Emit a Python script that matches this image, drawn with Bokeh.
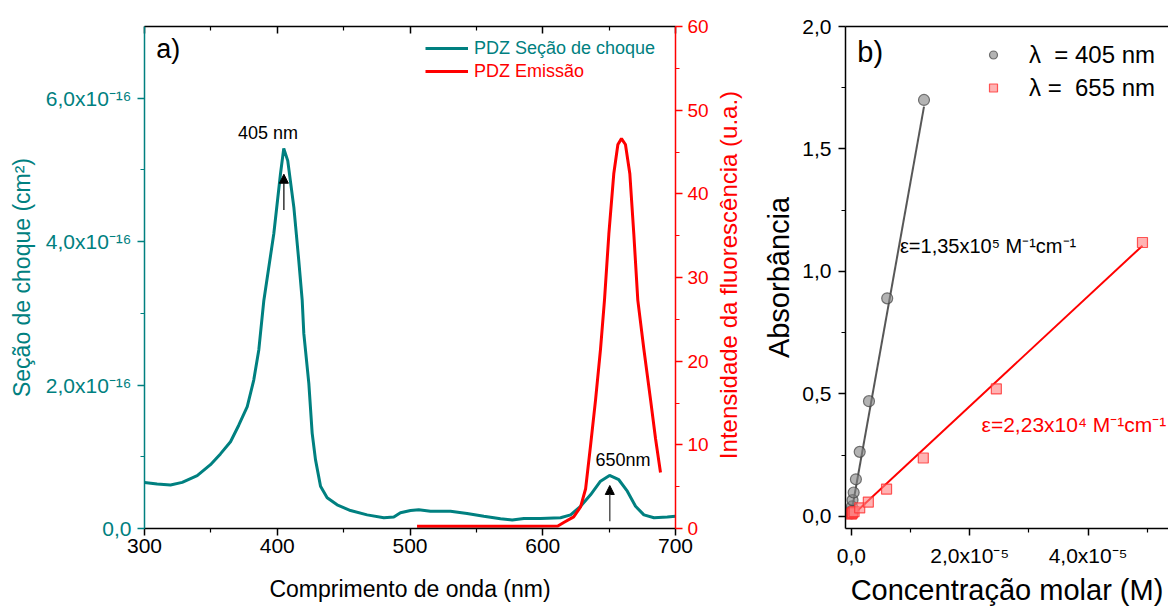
import math
from bokeh.plotting import figure
from bokeh.models import (Range1d, LinearAxis, FixedTicker, Legend, LegendItem,
                          Label, Arrow, NormalHead)
from bokeh.layouts import row
from bokeh.embed import file_html
from bokeh.resources import INLINE

FONT = "Liberation Sans"
TEAL = "#008080"
RED = "#FF0000"

# ---------------- Panel a data ----------------
# absorption cross-section (units of 1e-16 cm^2)
wl_abs = [300, 309.5, 319.6, 328.4, 339.7, 349.7, 357.2, 364.8, 371, 377.4, 382.3, 386.1,
          389.9, 397.4, 402.4, 404.9, 407.9, 412.5, 416.2, 418.8, 420, 423.8, 426.3, 428.8,
          432.6, 437.6, 445.1, 455.2, 467.7, 480.3, 487.8, 492.8, 500.4, 506.6, 515.4,
          530.5, 543, 555.6, 568.2, 577, 585.8, 598.3, 613.4, 621, 628.5, 636, 643.5,
          650.3, 657.3, 663.7, 669.9, 676.2, 683.8, 693.8, 700]
sigma_abs = [0.643, 0.62, 0.607, 0.643, 0.736, 0.89, 1.04, 1.21, 1.44, 1.70, 2.07, 2.49,
             3.18, 4.11, 4.94, 5.30, 5.13, 4.48, 3.74, 3.18, 2.72, 2.02, 1.33, 0.96,
             0.59, 0.43, 0.33, 0.25, 0.19, 0.15, 0.16, 0.22, 0.25, 0.26, 0.24,
             0.24, 0.21, 0.17, 0.135, 0.12, 0.14, 0.14, 0.15, 0.19, 0.31, 0.47, 0.66,
             0.74, 0.68, 0.52, 0.31, 0.19, 0.15, 0.16, 0.17]
# emission intensity (a.u.)
wl_em = [505.3, 540, 580, 611.4, 615.8, 623.3, 628.5, 632.3, 636, 639.8, 643.5, 646.5,
         649.8, 653.5, 656.6, 659.3, 662.3, 665.6, 668.6, 671.6, 676.2, 681.2, 685, 688.7]
em_int = [0.27, 0.27, 0.28, 0.3, 0.71, 1.39, 2.58, 4.75, 9.9, 15.4, 21.4, 27.3,
          35.2, 42.4, 45.9, 46.6, 45.9, 42.4, 35.2, 27.3, 21.4, 15.4, 10.7, 6.7]

xa_ticks = [300, 400, 500, 600, 700]
xa_minor = [350, 450, 550, 650]
ya_ticks = [0, 2, 4, 6]
ya_minor = [1, 3, 5]
ya_labels = ["0,0", "2,0x10\u207b\u00b9\u2076", "4,0x10\u207b\u00b9\u2076", "6,0x10\u207b\u00b9\u2076"]
yr_ticks = [0, 10, 20, 30, 40, 50, 60]
yr_minor = [5, 15, 25, 35, 45, 55]

# ---------------- Panel b data ----------------
# concentration in units of 1e-5 M
conc_405 = [0.0024, 0.0048, 0.0095, 0.019, 0.038, 0.076, 0.14, 0.297, 0.605, 1.227]
abs_405 = [0.012, 0.022, 0.04, 0.066, 0.097, 0.151, 0.263, 0.47, 0.89, 1.70]
conc_655 = [0.0, 0.01, 0.02, 0.045, 0.14, 0.286, 0.594, 1.215, 2.45, 4.92]
abs_655 = [0.009, 0.012, 0.015, 0.019, 0.034, 0.058, 0.111, 0.238, 0.52, 1.118]
fit_405_x = [0.0, 1.227]
fit_405_y = [0.015, 1.673]
fit_655_x = [0.0, 4.92]
fit_655_y = [0.0, 1.105]

xb_ticks = [0, 2, 4]
xb_minor = [1, 3, 5]
xb_labels = ["0,0", "2,0x10\u207b\u2075", "4,0x10\u207b\u2075"]
yb_ticks = [0, 0.5, 1.0, 1.5, 2.0]
yb_minor = [0.25, 0.75, 1.25, 1.75]
yb_labels = ["0,0", "0,5", "1,0", "1,5", "2,0"]


def style_axis(ax, color, size, label_size=None):
    ax.axis_line_color = color
    ax.axis_line_width = 1.5
    ax.major_tick_line_color = color
    ax.minor_tick_line_color = color
    ax.major_tick_line_width = 1.5
    ax.minor_tick_line_width = 1.2
    ax.major_tick_out = 7
    ax.major_tick_in = 0
    ax.minor_tick_out = 4
    ax.minor_tick_in = 0
    ax.major_label_text_color = color
    ax.major_label_text_font = FONT
    ax.major_label_text_font_size = size
    ax.axis_label_text_color = color
    ax.axis_label_text_font = FONT
    ax.axis_label_text_font_style = "normal"
    if label_size:
        ax.axis_label_text_font_size = label_size


# ================= Panel a =================
pa = figure(width=712, height=608, x_range=Range1d(300, 700), y_range=Range1d(0, 7),
            x_axis_type=None, y_axis_type=None, output_backend="svg",
            toolbar_location=None, min_border_left=144, min_border_right=37,
            min_border_top=25, min_border_bottom=78)
pa.outline_line_color = None
pa.extra_y_ranges = {"em": Range1d(0, 60)}

xa = LinearAxis(ticker=FixedTicker(ticks=xa_ticks, minor_ticks=xa_minor),
                axis_label="Comprimento de onda (nm)")
style_axis(xa, "black", "21px", "23px")
xa.major_label_standoff = 3
xa.axis_label_standoff = 20
pa.add_layout(xa, "below")

xa_top = LinearAxis(ticker=FixedTicker(ticks=xa_ticks, minor_ticks=xa_minor))
style_axis(xa_top, "black", "10px")
xa_top.major_label_text_color = None
xa_top.major_tick_out = 0
xa_top.major_tick_in = 7
xa_top.minor_tick_out = 0
xa_top.minor_tick_in = 4
xa_top.major_label_standoff = 0
pa.add_layout(xa_top, "above")

ya = LinearAxis(ticker=FixedTicker(ticks=ya_ticks, minor_ticks=ya_minor),
                axis_label="Se\u00e7\u00e3o de choque (cm\u00b2)")
ya.major_label_overrides = {t: l for t, l in zip(ya_ticks, ya_labels)}
style_axis(ya, TEAL, "21px", "23px")
ya.major_label_standoff = 6
ya.axis_label_standoff = 8
pa.add_layout(ya, "left")

yr = LinearAxis(y_range_name="em", ticker=FixedTicker(ticks=yr_ticks, minor_ticks=yr_minor))
style_axis(yr, RED, "19px")
yr.major_label_standoff = 5
pa.add_layout(yr, "right")

l_abs = pa.line(wl_abs, sigma_abs, line_color=TEAL, line_width=3)
l_em = pa.line(wl_em, em_int, line_color=RED, line_width=3, y_range_name="em")

leg1 = Legend(items=[LegendItem(label="PDZ Se\u00e7\u00e3o de choque", renderers=[l_abs])],
              location=(281, 469), label_text_color=TEAL)
leg2 = Legend(items=[LegendItem(label="PDZ Emiss\u00e3o", renderers=[l_em])],
              location=(281, 446), label_text_color=RED)
for lg in (leg1, leg2):
    lg.border_line_color = None
    lg.background_fill_alpha = 0
    lg.padding = 0
    lg.margin = 0
    lg.glyph_width = 43
    lg.glyph_height = 22
    lg.label_height = 22
    lg.label_standoff = 6
    lg.label_text_font = FONT
    lg.label_text_font_size = "18px"
    pa.add_layout(lg, "center")

pa.add_layout(Label(x=308.8, y=6.69, text="a)", text_font=FONT, text_font_size="27px",
                    text_baseline="middle", text_align="left", text_color="black"))
pa.add_layout(Label(x=393, y=5.51, text="405 nm", text_font=FONT, text_font_size="18px",
                    text_baseline="middle", text_align="center", text_color="black"))
pa.add_layout(Label(x=660.5, y=0.96, text="650nm", text_font=FONT, text_font_size="18px",
                    text_baseline="middle", text_align="center", text_color="black"))
pa.add_layout(Arrow(end=NormalHead(size=9, fill_color="black", line_color="black"),
                    x_start=405, y_start=4.44, x_end=405, y_end=4.94,
                    line_color="black", line_width=1.2))
pa.add_layout(Arrow(end=NormalHead(size=9, fill_color="black", line_color="black"),
                    x_start=650.5, y_start=0.10, x_end=650.5, y_end=0.60,
                    line_color="#555555", line_width=1.5))

# ---- narrow strip holding the right-axis title (reads bottom to top) ----
pt = figure(width=48, height=608, x_range=Range1d(0, 48), y_range=Range1d(0, 608),
            x_axis_type=None, y_axis_type=None, output_backend="svg",
            toolbar_location=None, min_border_left=0, min_border_right=0,
            min_border_top=0, min_border_bottom=0)
pt.outline_line_color = None
pt.add_layout(Label(x=16, y=307, angle=math.pi / 2,
                    text="Intensidade da fluoresc\u00eancia (u.a.)",
                    text_font=FONT, text_font_size="24px", text_color=RED,
                    text_align="center", text_baseline="middle"))

# ================= Panel b =================
pb = figure(width=408, height=608, x_range=Range1d(-0.1, 5.36), y_range=Range1d(-0.05, 2.0),
            x_axis_type=None, y_axis_type=None, output_backend="svg",
            toolbar_location=None, min_border_left=83, min_border_right=0,
            min_border_top=26, min_border_bottom=77)
pb.outline_line_color = None

xb = LinearAxis(ticker=FixedTicker(ticks=xb_ticks, minor_ticks=xb_minor),
                axis_label="Concentra\u00e7\u00e3o molar (M)")
xb.major_label_overrides = {t: l for t, l in zip(xb_ticks, xb_labels)}
style_axis(xb, "black", "21px", "29px")
xb.major_label_standoff = 8
xb.axis_label_standoff = 4
pb.add_layout(xb, "below")

xb_top = LinearAxis(ticker=FixedTicker(ticks=[]))
style_axis(xb_top, "black", "10px")
xb_top.major_label_text_color = None
xb_top.major_tick_out = 0
xb_top.minor_tick_out = 0
xb_top.major_label_standoff = 0
pb.add_layout(xb_top, "above")

yb = LinearAxis(ticker=FixedTicker(ticks=yb_ticks, minor_ticks=yb_minor),
                axis_label="Absorb\u00e2ncia")
yb.major_label_overrides = {t: l for t, l in zip(yb_ticks, yb_labels)}
style_axis(yb, "black", "21px", "29px")
yb.major_label_standoff = 7
yb.axis_label_standoff = 4
pb.add_layout(yb, "left")

pb.line(fit_405_x, fit_405_y, line_color="#3a3a3a", line_width=2, line_alpha=0.85)
pb.line(fit_655_x, fit_655_y, line_color=RED, line_width=2)
s405 = pb.scatter(conc_405, abs_405, marker="circle", size=11, fill_color="#808080",
                  fill_alpha=0.6, line_color="#404040", line_alpha=0.7, line_width=1.2)
s655 = pb.scatter(conc_655, abs_655, marker="square", size=10, fill_color="#FF8080",
                  fill_alpha=0.6, line_color="#FF3030", line_alpha=0.8, line_width=1.2)

legb = Legend(items=[LegendItem(label="\u03bb\u00a0\u00a0= 405 nm", renderers=[s405]),
                     LegendItem(label="\u03bb =\u00a0\u00a0655 nm", renderers=[s655])],
              location=(138, 424))
legb.border_line_color = None
legb.background_fill_alpha = 0
legb.padding = 0
legb.margin = 0
legb.spacing = 0
legb.glyph_width = 20
legb.glyph_height = 33
legb.label_height = 33
legb.label_standoff = 26
legb.label_text_font = FONT
legb.label_text_font_size = "24px"
legb.label_text_color = "black"
pb.add_layout(legb, "center")

pb.add_layout(Label(x=0.1, y=1.896, text="b)", text_font=FONT, text_font_size="29px",
                    text_baseline="middle", text_align="left", text_color="black"))
pb.add_layout(Label(x=0.82, y=1.105,
                    text="\u03b5=1,35x10\u2075 M\u207b\u00b9cm\u207b\u00b9",
                    text_font=FONT, text_font_size="20px", text_baseline="middle",
                    text_align="left", text_color="black"))
pb.add_layout(Label(x=2.20, y=0.374,
                    text="\u03b5=2,23x10\u2074 M\u207b\u00b9cm\u207b\u00b9",
                    text_font=FONT, text_font_size="21px", text_baseline="middle",
                    text_align="left", text_color=RED))

layout = row(pa, pt, pb)
open("out.html", "w").write(file_html(layout, INLINE))
